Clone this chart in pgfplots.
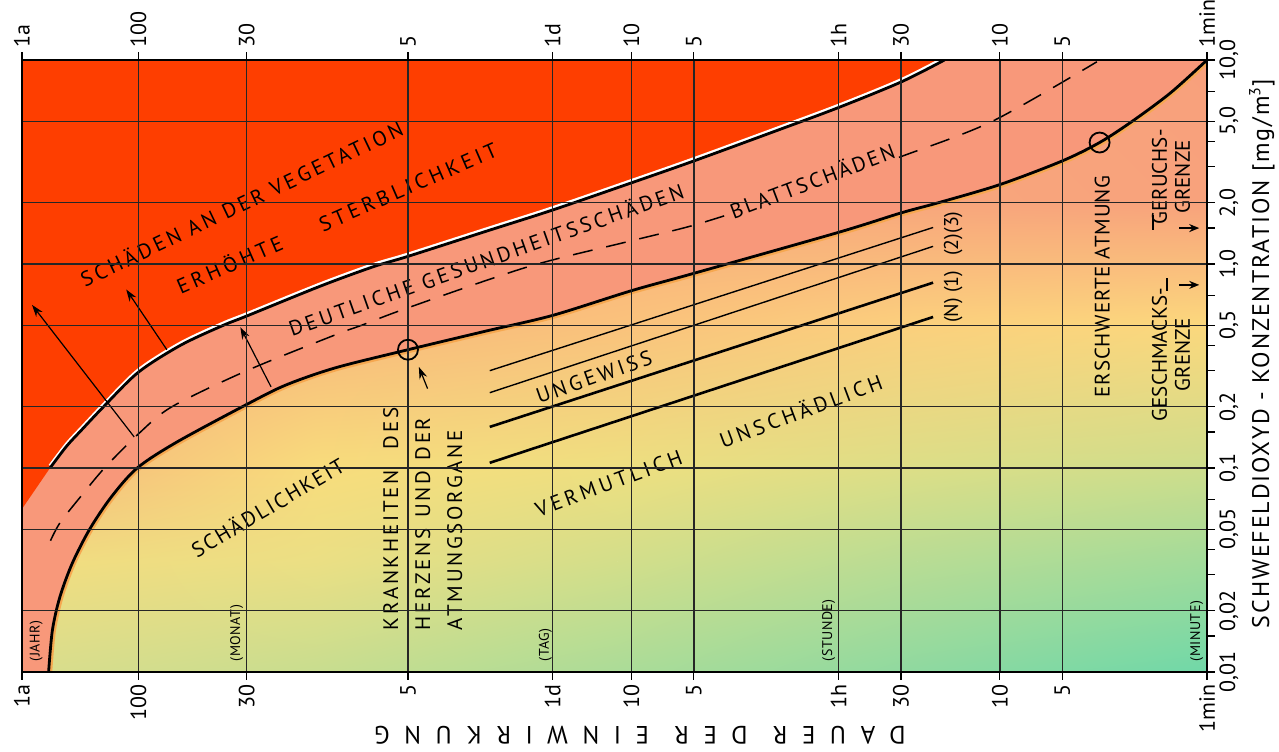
\documentclass[border=0pt]{standalone}
\usepackage{fontspec}
\setmainfont{PT Sans}
\usepackage{pgfplots}
\usepackage{pgfplotstable}
\pgfplotsset{compat=1.18}
\usetikzlibrary{calc,arrows.meta,shadings}

\newcommand\tickf{\fontsize{11}{13}\selectfont}
\newcommand\lsf[3]{\fontsize{#1}{#2}\selectfont\addfontfeatures{LetterSpace=#3}}

\definecolor{redc}{RGB}{254,62,0}
\definecolor{salm}{RGB}{248,152,122}
\definecolor{fringe}{RGB}{246,168,80}
% background colour field (rows: 10, 2, 0.5, 0.1, 0.035, 0.01; columns: 1a, 20000, 700, 25, 1 min)
\definecolor{c00}{HTML}{F8A87C}\definecolor{c01}{HTML}{F8A87C}\definecolor{c02}{HTML}{F8A87C}\definecolor{c03}{HTML}{F8A47C}\definecolor{c04}{HTML}{F8A07C}
\definecolor{c10}{HTML}{F8A87C}\definecolor{c11}{HTML}{F8AC7C}\definecolor{c12}{HTML}{F8AC7C}\definecolor{c13}{HTML}{F8A67C}\definecolor{c14}{HTML}{F8A27C}
\definecolor{c20}{HTML}{F8B07C}\definecolor{c21}{HTML}{F8B87C}\definecolor{c22}{HTML}{FAC27C}\definecolor{c23}{HTML}{FBD07D}\definecolor{c24}{HTML}{FBD87D}
\definecolor{c30}{HTML}{F6B87C}\definecolor{c31}{HTML}{F8DC7C}\definecolor{c32}{HTML}{EEDF80}\definecolor{c33}{HTML}{DCDE87}\definecolor{c34}{HTML}{CDDD8C}
\definecolor{c40}{HTML}{F2DC80}\definecolor{c41}{HTML}{EBDF84}\definecolor{c42}{HTML}{D3DE8A}\definecolor{c43}{HTML}{B8DC94}\definecolor{c44}{HTML}{A2DB9A}
\definecolor{c50}{HTML}{DADD8C}\definecolor{c51}{HTML}{C8DD8F}\definecolor{c52}{HTML}{ABDC98}\definecolor{c53}{HTML}{8ED9A0}\definecolor{c54}{HTML}{70D8A8}

\newcommand{\tile}[8]{\shade[upper left=#5,upper right=#6,lower left=#7,lower right=#8] (axis cs:#1,#3) rectangle (axis cs:#2,#4);}

\begin{document}
% upper boundary (red / salmon)
\pgfplotstableread{
t c
385000 0.1
320000 0.128
272000 0.153
212000 0.2
144000 0.295
90000 0.4
56200 0.5
43200 0.556
19000 0.78
10570 0.97
7200 1.09
3000 1.45
1440 1.84
600 2.5
300 3.2
120 4.5
60 5.85
30 7.8
18.5 10
}\Utab
% lower boundary (salmon / gradient)
\pgfplotstableread{
t c
391000 0.01
375000 0.016
345000 0.0233
301000 0.034
248000 0.05
195000 0.072
146000 0.1
94000 0.134
43200 0.205
28000 0.255
16100 0.31
7200 0.38
3000 0.47
1440 0.56
600 0.74
300 0.9
60 1.43
30 1.78
19.7 2.0
10 2.45
5 3.2
3.3 3.94
2.3 5.0
1.5 6.9
1 10
}\Ltab
% dashed line
\pgfplotstableread{
t c
383000 0.044
344000 0.054
272000 0.073
210000 0.1
144000 0.147
99000 0.2
43200 0.30
16100 0.45
12100 0.5
7200 0.61
1890 0.97
600 1.3
300 1.55
135 2.0
60 2.6
30 3.36
10.9 5.0
3.4 9.8
}\Dtab

\begin{tikzpicture}
\begin{axis}[
  width=592.5pt, height=306pt, scale only axis,
  xmode=log, ymode=log, x dir=reverse,
  xmin=1, xmax=525600, ymin=0.01, ymax=10,
  xtick={1,5,10,30,60,300,600,1440,7200,43200,144000,525600},
  xticklabels={1min,5,10,30,1h,5,10,1d,5,30,100,1a},
  ytick={0.01,0.02,0.05,0.1,0.2,0.5,1,2,5,10},
  yticklabels={{0,01},{0,02},{0,05},{0,1},{0,2},{0,5},{1,0},{2,0},{5,0},{10,0}},
  minor xtick={},
  minor ytick={0.015,0.03,0.04,0.07,0.15,0.3,0.4,0.7,1.5,3,4,7},
  xtick pos=both, ytick pos=right, yticklabel pos=right,
  tick align=outside, major tick length=4pt, minor tick length=4pt,
  tick style={black, line width=0.6pt},
  xmajorgrids, ymajorgrids,
  major grid style={black!85, line width=0.7pt},
  axis line style={black, line width=0.8pt},
  axis on top,
  xticklabel style={font=\tickf, rotate=90, anchor=east, inner sep=2pt},
  yticklabel style={font=\tickf, rotate=90, anchor=north, inner sep=2pt},
]
% background colour field
\tile{525600}{20000}{10}{2}{c00}{c01}{c10}{c11}
\tile{20000}{700}{10}{2}{c01}{c02}{c11}{c12}
\tile{700}{25}{10}{2}{c02}{c03}{c12}{c13}
\tile{25}{1}{10}{2}{c03}{c04}{c13}{c14}
\tile{525600}{20000}{2}{0.5}{c10}{c11}{c20}{c21}
\tile{20000}{700}{2}{0.5}{c11}{c12}{c21}{c22}
\tile{700}{25}{2}{0.5}{c12}{c13}{c22}{c23}
\tile{25}{1}{2}{0.5}{c13}{c14}{c23}{c24}
\tile{525600}{20000}{0.5}{0.1}{c20}{c21}{c30}{c31}
\tile{20000}{700}{0.5}{0.1}{c21}{c22}{c31}{c32}
\tile{700}{25}{0.5}{0.1}{c22}{c23}{c32}{c33}
\tile{25}{1}{0.5}{0.1}{c23}{c24}{c33}{c34}
\tile{525600}{20000}{0.1}{0.035}{c30}{c31}{c40}{c41}
\tile{20000}{700}{0.1}{0.035}{c31}{c32}{c41}{c42}
\tile{700}{25}{0.1}{0.035}{c32}{c33}{c42}{c43}
\tile{25}{1}{0.1}{0.035}{c33}{c34}{c43}{c44}
\tile{525600}{20000}{0.035}{0.01}{c40}{c41}{c50}{c51}
\tile{20000}{700}{0.035}{0.01}{c41}{c42}{c51}{c52}
\tile{700}{25}{0.035}{0.01}{c42}{c43}{c52}{c53}
\tile{25}{1}{0.035}{0.01}{c43}{c44}{c53}{c54}

% orange fringe below the lower curve
\addplot[fringe, line width=3.6pt, smooth] table[x=t,y=c] {\Ltab};
% salmon band (everything above the lower curve)
\addplot[draw=none, fill=salm, smooth] table[x=t,y=c] {\Ltab}
  -- (axis cs:525600,10) -- (axis cs:525600,0.01) -- cycle;
% red region
\addplot[draw=none, fill=redc, smooth] table[x=t,y=c] {\Utab}
  -- (axis cs:525600,10) -- (axis cs:525600,0.063) -- cycle;

% curves
\addplot[white, line width=1.6pt, smooth, yshift=1.1pt] table[x=t,y=c] {\Utab};
\addplot[black, line width=1.4pt, smooth] table[x=t,y=c] {\Utab};
\addplot[black, line width=1.4pt, smooth] table[x=t,y=c] {\Ltab};
\addplot[black, line width=0.75pt, smooth, dash pattern=on 10pt off 7pt] table[x=t,y=c] {\Dtab};

% straight lines (2)(3) thin, (N)(1) thick
\addplot[black, line width=0.7pt] coordinates {(2900,0.30) (21,1.51)};
\addplot[black, line width=0.7pt] coordinates {(2900,0.234) (21,1.22)};
\addplot[black, line width=1.3pt] coordinates {(2900,0.159) (21,0.81)};
\addplot[black, line width=1.3pt] coordinates {(2900,0.106) (21,0.55)};

% circles
\addplot[only marks, mark=o, mark size=5pt, mark options={black, line width=0.9pt}] coordinates {(7200,0.38) (3.3,3.94)};

% arrows
\addplot[black, line width=0.6pt, -{Stealth[length=6pt,width=4pt]}] coordinates {(151000,0.142) (470000,0.63)};
\addplot[black, line width=0.6pt, -{Stealth[length=6pt,width=4pt]}] coordinates {(105000,0.38) (165000,0.75)};
\addplot[black, line width=0.6pt, -{Stealth[length=6pt,width=4pt]}] coordinates {(33000,0.25) (46400,0.49)};
\addplot[black, line width=0.6pt, -{Stealth[length=6pt,width=4pt]}] coordinates {(5790,0.245) (6380,0.313)};
\addplot[black, line width=0.8pt, -{Stealth[length=5pt,width=4pt]}] coordinates {(1.36,1.5) (1.09,1.5)};
\addplot[black, line width=0.8pt, -{Stealth[length=5pt,width=4pt]}] coordinates {(1.36,0.79) (1.09,0.79)};
\addplot[black, line width=0.8pt] coordinates {(1.82,1.47) (1.82,1.74)};
\addplot[black, line width=0.8pt] coordinates {(1.56,0.74) (1.56,0.85)};

% labels
\node[rotate=25.6, font={\lsf{10.5}{12}{16}}] at (axis cs:45900,1.99) {SCHÄDEN AN DER VEGETATION};
\node[rotate=23.5, font={\lsf{10.5}{12}{19}}] at (axis cs:15960,1.70) {ERHÖHTE\qquad STERBLICHKEIT};
\node[rotate=19.5, anchor=base, font={\lsf{10.5}{12}{16}}] at (axis cs:2930,0.964) {DEUTLICHE GESUNDHEITSSCHÄDEN};
\node[rotate=20.7, anchor=base, fill=salm, inner sep=1pt, font={\lsf{10.5}{12}{12}}] at (axis cs:78,2.35) {BLATTSCHÄDEN};
\node[rotate=30.6, font={\lsf{10.5}{12}{10}}] at (axis cs:34400,0.0645) {SCHÄDLICHKEIT};
\node[rotate=90, anchor=west, font={\lsf{10.5}{12}{13}}] at (axis cs:8710,0.0148) {KRANKHEITEN\quad DES};
\node[rotate=90, anchor=west, font={\lsf{10.5}{12}{13}}] at (axis cs:6110,0.0148) {HERZENS\enspace UND\enspace DER};
\node[rotate=90, anchor=west, font={\lsf{10.5}{12}{13}}] at (axis cs:4280,0.0148) {ATMUNGSORGANE};
\node[rotate=19.5, font={\lsf{10.5}{12}{16}}] at (axis cs:910,0.28) {UNGEWISS};
\node[rotate=20.5, font={\lsf{10.5}{12}{18}}] at (axis cs:255,0.13) {VERMUTLICH\qquad UNSCHÄDLICH};
\node[rotate=90, font={\lsf{10}{12}{0}}] at (axis cs:16.8,1.41) {(2)(3)};
\node[rotate=90, font={\lsf{10}{12}{0}}] at (axis cs:16.8,0.69) {(N) (1)};
\node[rotate=90, font={\lsf{10.5}{12}{4}}] at (axis cs:3.2,0.776) {ERSCHWERTE ATMUNG};
\node[rotate=90, align=center, font={\lsf{10.5}{11.5}{0}}] at (axis cs:1.49,2.67) {GERUCHS-\\GRENZE};
\node[rotate=90, align=center, font={\lsf{10.5}{11.5}{0}}] at (axis cs:1.49,0.36) {GESCHMACKS-\\GRENZE};
\node[rotate=90, anchor=west, font={\lsf{7}{8}{4}}] at (axis cs:449000,0.0104) {(JAHR)};
\node[rotate=90, anchor=west, font={\lsf{7}{8}{4}}] at (axis cs:48300,0.0104) {(MONAT)};
\node[rotate=90, anchor=west, font={\lsf{7}{8}{4}}] at (axis cs:1560,0.0104) {(TAG)};
\node[rotate=90, anchor=west, font={\lsf{7}{8}{4}}] at (axis cs:67,0.0104) {(STUNDE)};
\node[rotate=90, anchor=west, font={\lsf{7}{8}{4}}] at (axis cs:1.12,0.0104) {(MINUTE)};
\end{axis}

% top tick labels
\begin{axis}[
  width=592.5pt, height=306pt, scale only axis,
  xmode=log, ymode=log, x dir=reverse,
  xmin=1, xmax=525600, ymin=0.01, ymax=10,
  hide y axis, axis x line*=top,
  xtick={1,5,10,30,60,300,600,1440,7200,43200,144000,525600},
  xticklabels={1min,5,10,30,1h,5,10,1d,5,30,100,1a},
  minor xtick={},
  tick align=outside, major tick length=4pt,
  tick style={black, line width=0.6pt},
  axis line style={black, line width=0.8pt},
  xticklabel style={font=\tickf, rotate=90, anchor=west, inner sep=2pt},
]
\end{axis}

\node[rotate=180, font={\lsf{12.5}{14}{58}}] at ($(current axis.south west)!0.5215!(current axis.south east)+(0,-31.5pt)$) {DAUER\quad DER\quad EINWIRKUNG};
\node[rotate=90, font={\lsf{12}{14}{8}}] at ($(current axis.south east)!0.52!(current axis.north east)+(27.5pt,0)$) {SCHWEFELDIOXYD - KONZENTRATION [mg/m\textsuperscript{3}]};

\pgfresetboundingbox
\path[use as bounding box] ($(current axis.south west)+(-11pt,-40pt)$) rectangle ($(current axis.north east)+(36pt,30pt)$);
\end{tikzpicture}
\end{document}
